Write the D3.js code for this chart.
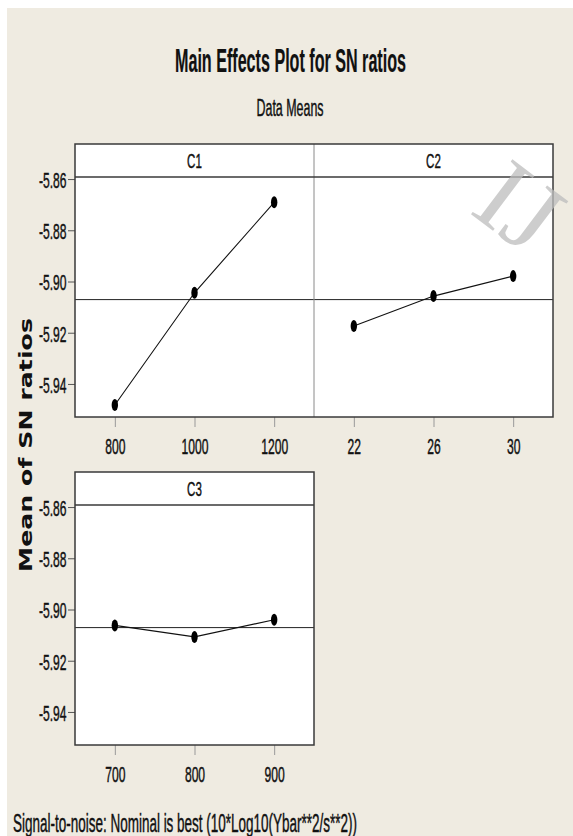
<!DOCTYPE html>
<html>
<head>
<meta charset="utf-8">
<script src="https://cdn.jsdelivr.net/npm/d3@7"></script>
<style>
  html, body { margin: 0; padding: 0; background: #fff; }
  svg { display: block; }
</style>
</head>
<body>
<svg id="chart" width="573" height="836"></svg>
<script>
// factor levels and mean SN ratios
var c1Levels = [800, 1000, 1200];
var c1Means = [-5.9482, -5.9044, -5.8691];
var c2Levels = [22, 26, 30];
var c2Means = [-5.9174, -5.9057, -5.8979];
var c3Levels = [700, 800, 900];
var c3Means = [-5.9062, -5.9107, -5.9040];
var yTicks = [-5.86, -5.88, -5.90, -5.92, -5.94];
var yDomain = [-5.9529, -5.8592];
var panelNames = ["C1", "C2", "C3"];

(function() {

    var svg = d3.select("#chart");
    var SX = 0.55; // the source picture is squeezed sideways, so text is too
    var font = "'Liberation Sans', Arial, sans-serif";
    var headerH = 33;
    var plotH = 240;
    var grandMean = d3.mean(c1Means.concat(c2Means, c3Means));

    var fmt = d3.formatLocale({decimal: ".", thousands: ",", grouping: [3], currency: ["", ""], minus: "-"}).format(".2f");

    var rows = [
        {top: 144, x0: 75, x1: 553},
        {top: 472, x0: 75, x1: 314}
    ];

    var panels = [
        {name: panelNames[0], levels: c1Levels, means: c1Means, x0: 75, x1: 314, row: rows[0], yAxis: true},
        {name: panelNames[1], levels: c2Levels, means: c2Means, x0: 314, x1: 553, row: rows[0], yAxis: false},
        {name: panelNames[2], levels: c3Levels, means: c3Means, x0: 75, x1: 314, row: rows[1], yAxis: true}
    ];

    // background
    svg.append("rect")
        .attr("x", 7).attr("y", 8)
        .attr("width", 566).attr("height", 828)
        .attr("fill", "#efebe1");

    var squashText = function(parent, x, y, str, size, weight, anchor, width) {
        var t = parent.append("text")
            .attr("transform", "translate(" + x + "," + y + ") scale(" + SX + ",1)")
            .attr("text-anchor", anchor)
            .attr("font-family", font)
            .attr("font-size", size)
            .attr("font-weight", weight)
            .attr("fill", "#111")
            .attr("stroke", "#111")
            .attr("stroke-width", weight === "bold" ? 0.2 : 0.45)
            .text(str);
        if (width) {
            t.attr("textLength", width / SX).attr("lengthAdjust", "spacingAndGlyphs");
        }
        return t;
    };

    squashText(svg, 290.5, 72, "Main Effects Plot for SN ratios", 34, "bold", "middle", 231);
    squashText(svg, 290, 116, "Data Means", 23, "normal", "middle", 67);
    squashText(svg, 13, 832, "Signal-to-noise: Nominal is best (10*Log10(Ybar**2/s**2))", 25, "normal", "start", 344);

    // y axis title, rotated
    svg.append("text")
        .attr("transform", "translate(32,445) scale(" + SX + ",1) rotate(-90)")
        .attr("text-anchor", "middle")
        .attr("font-family", "'DejaVu Sans', Verdana, sans-serif")
        .attr("font-weight", "bold")
        .attr("font-size", 32)
        .attr("textLength", 254)
        .attr("lengthAdjust", "spacingAndGlyphs")
        .attr("fill", "#111")
        .text("Mean of SN ratios");

    panels.forEach(function(p) {
        var plotTop = p.row.top + headerH;
        var plotBottom = plotTop + plotH;

        var x = d3.scalePoint().domain(p.levels).range([p.x0, p.x1]).padding(0.5);
        var y = d3.scaleLinear().domain(yDomain).range([plotBottom, plotTop]);

        var g = svg.append("g").attr("class", "panel");

        g.append("rect")
            .attr("x", p.x0).attr("y", p.row.top)
            .attr("width", p.x1 - p.x0).attr("height", headerH + plotH)
            .attr("fill", "#fff");

        squashText(g, (p.x0 + p.x1) / 2, p.row.top + 24, p.name, 21, "normal", "middle");

        // grand mean reference line
        g.append("line")
            .attr("x1", p.x0).attr("x2", p.x1)
            .attr("y1", y(grandMean)).attr("y2", y(grandMean))
            .attr("stroke", "#222").attr("stroke-width", 1);

        var pts = p.levels.map(function(d, i) { return [d, p.means[i]]; });

        g.append("path")
            .datum(pts)
            .attr("fill", "none")
            .attr("stroke", "#111")
            .attr("stroke-width", 1.1)
            .attr("d", d3.line()
                .x(function(d) { return x(d[0]); })
                .y(function(d) { return y(d[1]); }));

        g.selectAll(".pt")
            .data(pts)
            .enter().append("ellipse")
            .attr("class", "pt")
            .attr("cx", function(d) { return x(d[0]); })
            .attr("cy", function(d) { return y(d[1]); })
            .attr("rx", 3.2).attr("ry", 6)
            .attr("fill", "#000");

        var xAxis = g.append("g")
            .attr("transform", "translate(0," + plotBottom + ")")
            .call(d3.axisBottom(x).tickSize(10).tickSizeOuter(0));
        xAxis.select(".domain").remove();
        xAxis.selectAll(".tick line").attr("stroke", "#999");
        xAxis.selectAll(".tick text")
            .attr("y", 37).attr("dy", null)
            .attr("transform", "scale(" + SX + ",1)")
            .attr("font-family", font).attr("font-size", 22)
            .attr("fill", "#111")
            .attr("stroke", "#111").attr("stroke-width", 0.45);

        if (p.yAxis) {
            var yAxis = g.append("g")
                .attr("transform", "translate(" + p.x0 + ",0)")
                .call(d3.axisLeft(y).tickValues(yTicks).tickFormat(fmt).tickSize(7).tickSizeOuter(0));
            yAxis.select(".domain").remove();
            yAxis.selectAll(".tick line").attr("stroke", "#555");
            yAxis.selectAll(".tick text")
                .attr("x", -8.5 / SX).attr("dy", "0.38em")
                .attr("transform", "scale(" + SX + ",1)")
                .attr("font-family", font).attr("font-size", 22)
                .attr("fill", "#111")
                .attr("stroke", "#111").attr("stroke-width", 0.45);
        }

        // light divider where a panel sits next to another in the row
        if (p.x0 > p.row.x0) {
            g.append("line")
                .attr("x1", p.x0).attr("x2", p.x0)
                .attr("y1", p.row.top).attr("y2", plotBottom)
                .attr("stroke", "#8a8a8a").attr("stroke-width", 1);
        }
    });

    // row frames and header rules
    rows.forEach(function(r) {
        svg.append("rect")
            .attr("x", r.x0).attr("y", r.top)
            .attr("width", r.x1 - r.x0).attr("height", headerH + plotH)
            .attr("fill", "none")
            .attr("stroke", "#3a3a3a").attr("stroke-width", 1.5);
        svg.append("line")
            .attr("x1", r.x0).attr("x2", r.x1)
            .attr("y1", r.top + headerH).attr("y2", r.top + headerH)
            .attr("stroke", "#3a3a3a").attr("stroke-width", 1.5);
    });

    // faint journal watermark in the top right corner (only the part that shows)
    svg.append("text")
        .attr("transform", "translate(468,212) rotate(37)")
        .attr("font-family", "'Liberation Serif', 'Times New Roman', serif")
        .attr("font-size", 105)
        .attr("fill", "#bdbdbd")
        .attr("opacity", 0.75)
        .text("IJ");

}());
</script>
</body>
</html>
